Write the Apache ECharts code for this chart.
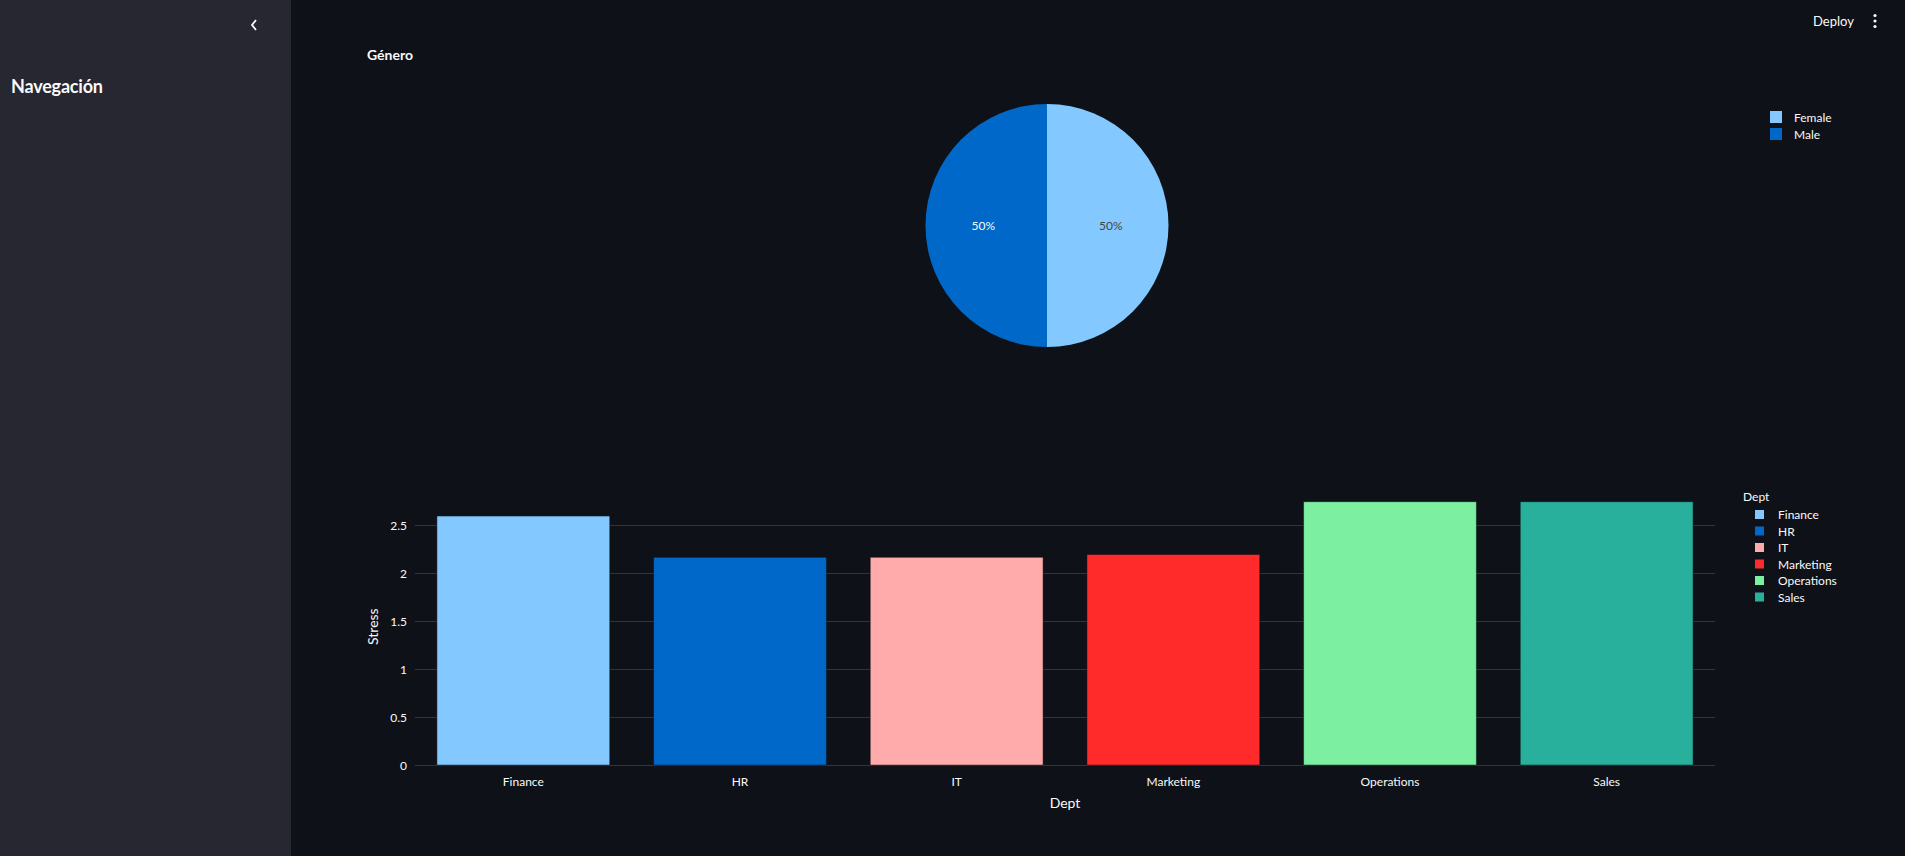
<!DOCTYPE html>
<html>
<head>
<meta charset="utf-8">
<script src="https://cdn.jsdelivr.net/npm/echarts@6/dist/echarts.min.js"></script>
<style>
  html, body { margin:0; padding:0; width:1905px; height:856px; background:#0e1117; overflow:hidden;
    font-family: Lato, "Noto Sans", sans-serif; color:#fafafa; }
  #sidebar { position:absolute; left:0; top:0; width:291px; height:856px; background:#262730; }
  #chart { position:absolute; left:0; top:0; width:1905px; height:856px; }
  .txt { position:absolute; white-space:nowrap; z-index:5; }
  #nav { left:11px; top:74px; font-size:18px; font-weight:700; line-height:24px; letter-spacing:-0.2px; }
  #genero { left:367px; top:45px; font-size:14px; font-weight:700; line-height:19px; }
  #deploy { left:1813px; top:12px; font-size:13px; line-height:19px; }
  #chev { position:absolute; left:249px; top:18px; z-index:5; }
  #dots { position:absolute; left:1871px; top:13px; z-index:5; }
</style>
</head>
<body>
<div id="sidebar"></div>
<svg id="chev" width="10" height="14"><polyline points="7,2 3,7 7,12" fill="none" stroke="#fafafa" stroke-width="1.8"/></svg>
<div class="txt" id="nav">Navegación</div>
<div class="txt" id="genero">Género</div>
<div class="txt" id="deploy">Deploy</div>
<svg id="dots" width="8" height="16"><circle cx="4" cy="2.5" r="1.6" fill="#fafafa"/><circle cx="4" cy="8" r="1.6" fill="#fafafa"/><circle cx="4" cy="13.5" r="1.6" fill="#fafafa"/></svg>
<div id="chart"></div>
<script>
const categories = ['Finance', 'HR', 'IT', 'Marketing', 'Operations', 'Sales'];
const stressValues = [2.6, 2.17, 2.17, 2.2, 2.75, 2.75];
const deptColors = ['#83c9ff', '#0068c9', '#ffabab', '#ff2b2b', '#7defa1', '#29b09d'];
const genderLabels = ['Female', 'Male'];
const genderValues = [50, 50];
const genderColors = ['#83c9ff', '#0068c9'];
const genderLabelColors = ['#444444', '#fafafa'];
const yTicks = [0, 0.5, 1, 1.5, 2, 2.5];
const yMax = 2.89;

const FONT = 'Lato, "Noto Sans", sans-serif';
const TXT = '#fafafa';
const GRID = '#31333f';

const chart = echarts.init(document.getElementById('chart'), null, { renderer: 'svg' });

const barSeries = categories.map((name, i) => ({
  name: name,
  type: 'bar',
  stack: 'dept',
  barWidth: '80%',
  z: 2,
  itemStyle: { color: deptColors[i], borderColor: '#0e1117', borderWidth: 0.5 },
  data: categories.map((c, j) => (j === i ? stressValues[i] : '-'))
}));

const option = {
  backgroundColor: 'transparent',
  animation: false,
  textStyle: { fontFamily: FONT },
  title: [{
    text: 'Dept', left: 1743, top: 490, padding: 0,
    textStyle: { color: TXT, fontSize: 12, fontWeight: 'normal', fontFamily: FONT }
  }],
  legend: [
    {
      data: genderLabels, orient: 'vertical', left: 1770, top: 111, padding: 0,
      itemWidth: 12, itemHeight: 12, itemGap: 5, icon: 'rect', selectedMode: false,
      textStyle: { color: TXT, fontSize: 12, lineHeight: 12, fontFamily: FONT, padding: [0, 0, 0, 7] }
    },
    {
      data: categories, orient: 'vertical', left: 1753, top: 508, padding: 0,
      itemWidth: 11, itemHeight: 11, itemGap: 3.5, icon: 'rect', selectedMode: false,
      textStyle: { color: TXT, fontSize: 12, lineHeight: 11, fontFamily: FONT, padding: [0, 0, 0, 8] }
    }
  ],
  grid: { left: 415, right: 190, top: 488, bottom: 90.7, containLabel: false },
  xAxis: {
    type: 'category', data: categories,
    axisLine: { show: false }, axisTick: { show: false },
    axisLabel: { color: TXT, fontSize: 12, margin: 10, fontFamily: FONT },
    name: 'Dept', nameLocation: 'middle', nameGap: 30,
    nameTextStyle: { color: TXT, fontSize: 14, fontFamily: FONT }
  },
  yAxis: {
    type: 'value', min: 0, max: yMax, interval: 0.5,
    axisLine: { show: false }, axisTick: { show: false },
    splitLine: { show: false },
    axisLabel: { color: TXT, fontSize: 12, margin: 8, showMaxLabel: false, fontFamily: FONT,
      formatter: v => (yTicks.indexOf(v) >= 0 ? String(v) : '') },
    name: 'Stress', nameLocation: 'middle', nameGap: 36,
    nameTextStyle: { color: TXT, fontSize: 14, fontFamily: FONT }
  },
  series: [
    {
      type: 'pie',
      name: 'Género',
      center: [1047, 225.5],
      radius: 121.5,
      startAngle: 90,
      clockwise: true,
      legendHoverLink: false,
      label: { show: true, position: 'inside', formatter: '{d}%', fontSize: 12, fontFamily: FONT },
      labelLine: { show: false },
      data: genderLabels.map((n, i) => ({
        name: n, value: genderValues[i],
        itemStyle: { color: genderColors[i] },
        label: { color: genderLabelColors[i] }
      }))
    },
    {
      type: 'line',
      name: '__grid',
      data: [],
      z: 0,
      silent: true,
      markLine: {
        silent: true, symbol: 'none', z: 1,
        label: { show: false },
        lineStyle: { color: GRID, type: 'solid', width: 1 },
        emphasis: { disabled: true },
        data: yTicks.map(v => ({ yAxis: v }))
      }
    }
  ].concat(barSeries)
};

chart.setOption(option);
</script>
</body>
</html>
